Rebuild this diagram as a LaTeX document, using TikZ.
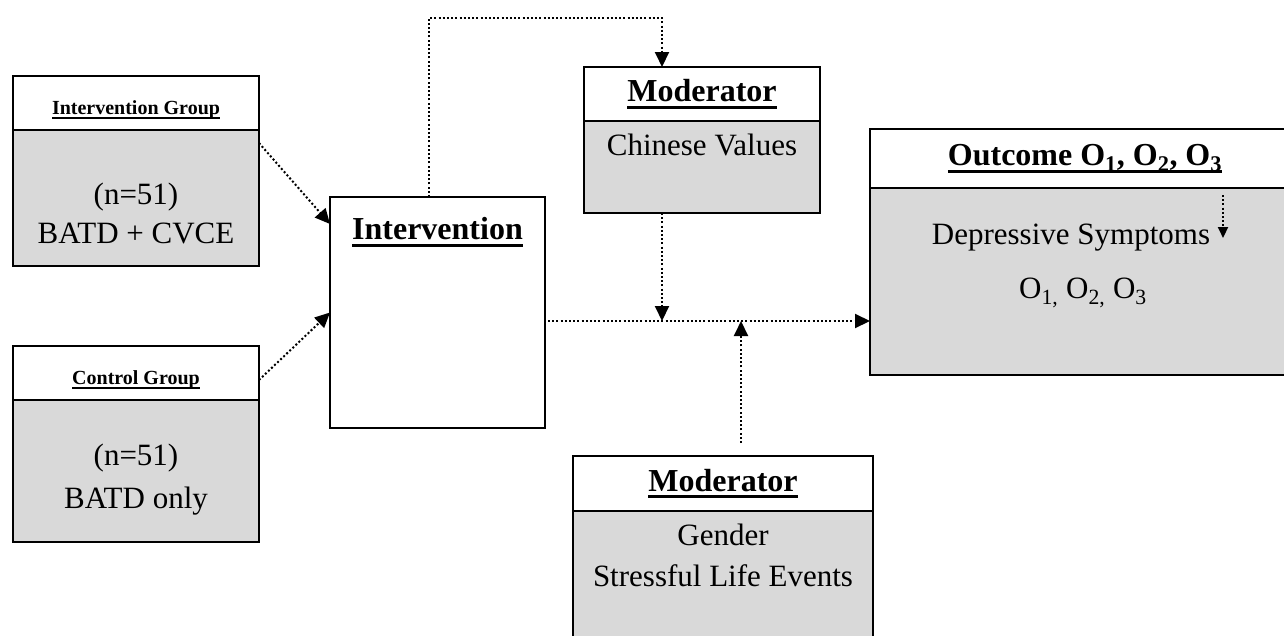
\documentclass[tikz,border=0pt]{standalone}
\usepackage{fontspec}
\setmainfont{Liberation Serif}
\usetikzlibrary{arrows.meta}
\definecolor{boxgray}{HTML}{D9D9D9}
\newcommand{\uhead}[1]{\textbf{\setbox0\hbox{#1}\rlap{\rule[-0.22em]{\wd0}{0.09em}}\box0}}

\begin{document}
\begin{tikzpicture}[
  x=1pt, y=-1pt,
  every node/.style={
    font=\fontsize{31}{39}\selectfont, align=center,
  },
  headbox/.style={
    draw, line width=2pt, fill=white, inner sep=0pt, outer sep=0pt,
    font=\fontsize{32}{38}\selectfont
  },
  smallhead/.style={
    headbox, font=\fontsize{20}{24}\selectfont,
    text height=27pt, text depth=4.5pt
  },
  bodybox/.style={
    draw, line width=2pt, fill=boxgray, inner sep=0pt, outer sep=0pt
  },
  txt/.style={inner sep=0pt},
  flow/.style={
    line width=2pt, dash pattern=on 2pt off 2.2pt,
    -{Triangle[length=15pt,width=14pt]}
  }
  ]
  \path[use as bounding box, clip] (0,0) rectangle (1284,635);

  \node[smallhead, minimum width=246pt, minimum height=54pt] (igHead) at (136,103) {\uhead{Intervention Group}};
  \node[bodybox, minimum width=246pt, minimum height=136pt] (igBody) at (136,198) {};
  \node[txt, font=\fontsize{31}{39}\selectfont] (igText) at (136,213) {(n=51)\\BATD + CVCE};

  \node[smallhead, minimum width=246pt, minimum height=54pt] (cgHead) at (136,373) {\uhead{Control Group}};
  \node[bodybox, minimum width=246pt, minimum height=142pt] (cgBody) at (136,471) {};
  \node[txt, font=\fontsize{31}{43}\selectfont] (cgText) at (136,480) {(n=51)\\BATD only};

  \node[draw, line width=2pt, fill=white, minimum width=215pt, minimum height=231pt,
    outer sep=0pt] (interv) at (437.5,312.5) {};
  \node[txt, font=\fontsize{32}{38}\selectfont] (intervText) at (437.5,232) {\uhead{Intervention}};

  \node[headbox, minimum width=236pt, minimum height=54pt] (modTopHead) at (702,94) {\uhead{Moderator}};
  \node[bodybox, minimum width=236pt, minimum height=92pt] (modTopBody) at (702,167) {};
  \node[txt] (valText) at (702,145) {Chinese Values};

  \node[headbox, minimum width=430pt, minimum height=59pt] (outHead) at (1085,158.5)
    {\uhead{Outcome O\textsubscript{1}, O\textsubscript{2}, O\textsubscript{3}}};
  \node[bodybox, minimum width=430pt, minimum height=187pt] (outBody) at (1085,281.5) {};
  \node[txt] (depText) at (1071,238) {Depressive Symptoms};
  \node[txt] (oText) at (1083,293) {O\textsubscript{1,} O\textsubscript{2,} O\textsubscript{3}};

  \node[headbox, minimum width=300pt, minimum height=55pt] (modBotHead) at (723,483.5) {\uhead{Moderator}};
  \node[bodybox, minimum width=300pt, minimum height=149pt] (modBotBody) at (723,585.5) {};
  \node[txt, font=\fontsize{31}{41}\selectfont] (lifeText) at (723,555) {Gender\\Stressful Life Events};

  \coordinate (mainStart) at (548,321);
  \coordinate (modJoin) at (662,321);
  \coordinate (genJoin) at (741,321);
  \coordinate (symTop) at (1223,195);
  \coordinate (symTip) at (1223,238);

  \draw[flow] ([yshift=-13pt]igBody.north east) -- ([yshift=-27pt]interv.north west);
  \draw[flow] ([yshift=-7pt]cgHead.east) -- (interv.west);
  \draw[flow] ([xshift=-9pt]interv.north) -- ++(0,-179) -| (modJoin |- modTopHead.north);
  \draw[flow] (modJoin |- modTopBody.south) -- (modJoin);
  \draw[flow] ([yshift=13pt]modBotHead.north -| genJoin) -- (genJoin);
  \draw[flow] (mainStart) -- (mainStart -| outBody.west);
  \draw[flow, -{Triangle[length=11pt,width=10pt]}] (symTop) -- (symTip);
\end{tikzpicture}
\end{document}
